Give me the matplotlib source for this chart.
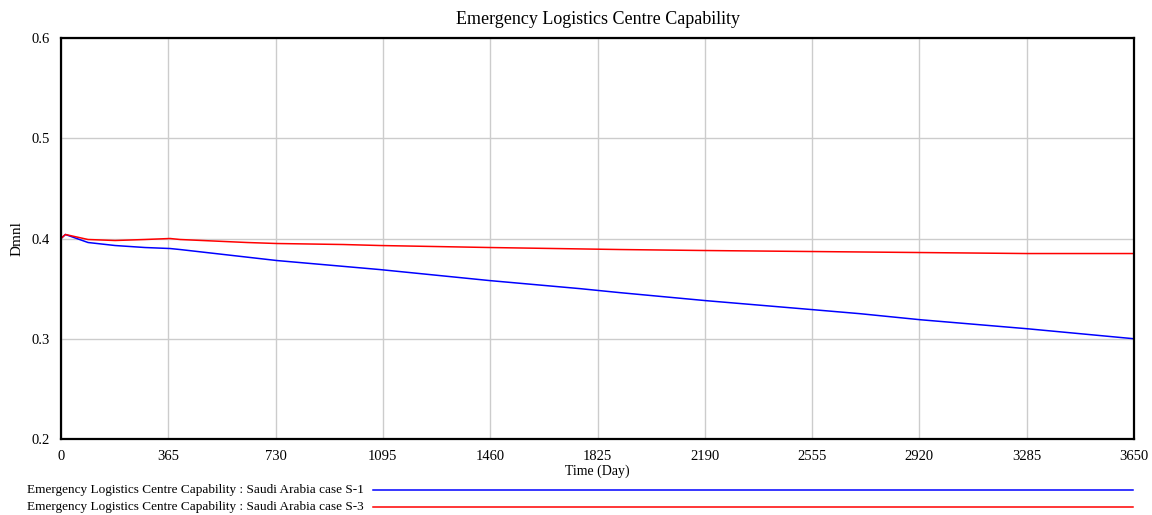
import matplotlib
matplotlib.use("Agg")
import matplotlib.pyplot as plt
from matplotlib.lines import Line2D

plt.rcParams['font.family'] = ['Liberation Serif', 'DejaVu Serif']

title = "Emergency Logistics Centre Capability"
x_label = "Time (Day)"
y_label = "Dmnl"
x_ticks = [0, 365, 730, 1095, 1460, 1825, 2190, 2555, 2920, 3285, 3650]
y_ticks = [0.2, 0.3, 0.4, 0.5, 0.6]

legend_labels = [
    "Emergency Logistics Centre Capability : Saudi Arabia case S-1",
    "Emergency Logistics Centre Capability : Saudi Arabia case S-3",
]

t_s1 = [0, 15, 92, 184, 286, 371, 405, 735, 1085, 1459, 1765, 1901, 2194, 2558, 2718, 2922, 3286, 3650]
v_s1 = [0.400, 0.404, 0.396, 0.393, 0.391, 0.390, 0.389, 0.378, 0.369, 0.358, 0.350, 0.346, 0.338, 0.329, 0.325, 0.319, 0.310, 0.300]

t_s3 = [0, 15, 92, 184, 286, 371, 405, 633, 735, 960, 1085, 1459, 1901, 2194, 2558, 2922, 3286, 3650]
v_s3 = [0.400, 0.404, 0.399, 0.398, 0.399, 0.400, 0.399, 0.396, 0.395, 0.394, 0.393, 0.391, 0.389, 0.388, 0.387, 0.386, 0.385, 0.385]

colors = ["#0000ff", "#ff0000"]

fig = plt.figure(figsize=(11.52, 5.15), dpi=100)
ax = fig.add_axes([61/1152, 1-439/515, (1134-61)/1152, (439-38)/515])

ax.plot(t_s1, v_s1, color=colors[0], lw=1.1)
ax.plot(t_s3, v_s3, color=colors[1], lw=1.1)

ax.set_xlim(0, 3650)
ax.set_ylim(0.2, 0.6)
ax.set_xticks(x_ticks)
ax.set_yticks(y_ticks)
ax.set_yticklabels([f"{v:.1f}" for v in y_ticks])
ax.grid(True, color="#cccccc", lw=1)
ax.tick_params(length=0, labelsize=10.5, pad=8)
for s in ax.spines.values():
    s.set_color("black")
    s.set_linewidth(1.6)

ax.set_title(title, fontsize=13, pad=10)
ax.set_xlabel(x_label, fontsize=10, labelpad=1)
ax.set_ylabel(y_label, fontsize=11, labelpad=6)

legend_y = [490, 507]
for lbl, c, yy in zip(legend_labels, colors, legend_y):
    fy = 1 - yy/515
    fig.text(27/1152, fy, lbl, fontsize=9.5, va="center", ha="left")
    fig.add_artist(Line2D([373/1152, 1133/1152], [fy, fy], color=c, lw=1.1, transform=fig.transFigure))

fig.savefig("out.png", dpi=100)
